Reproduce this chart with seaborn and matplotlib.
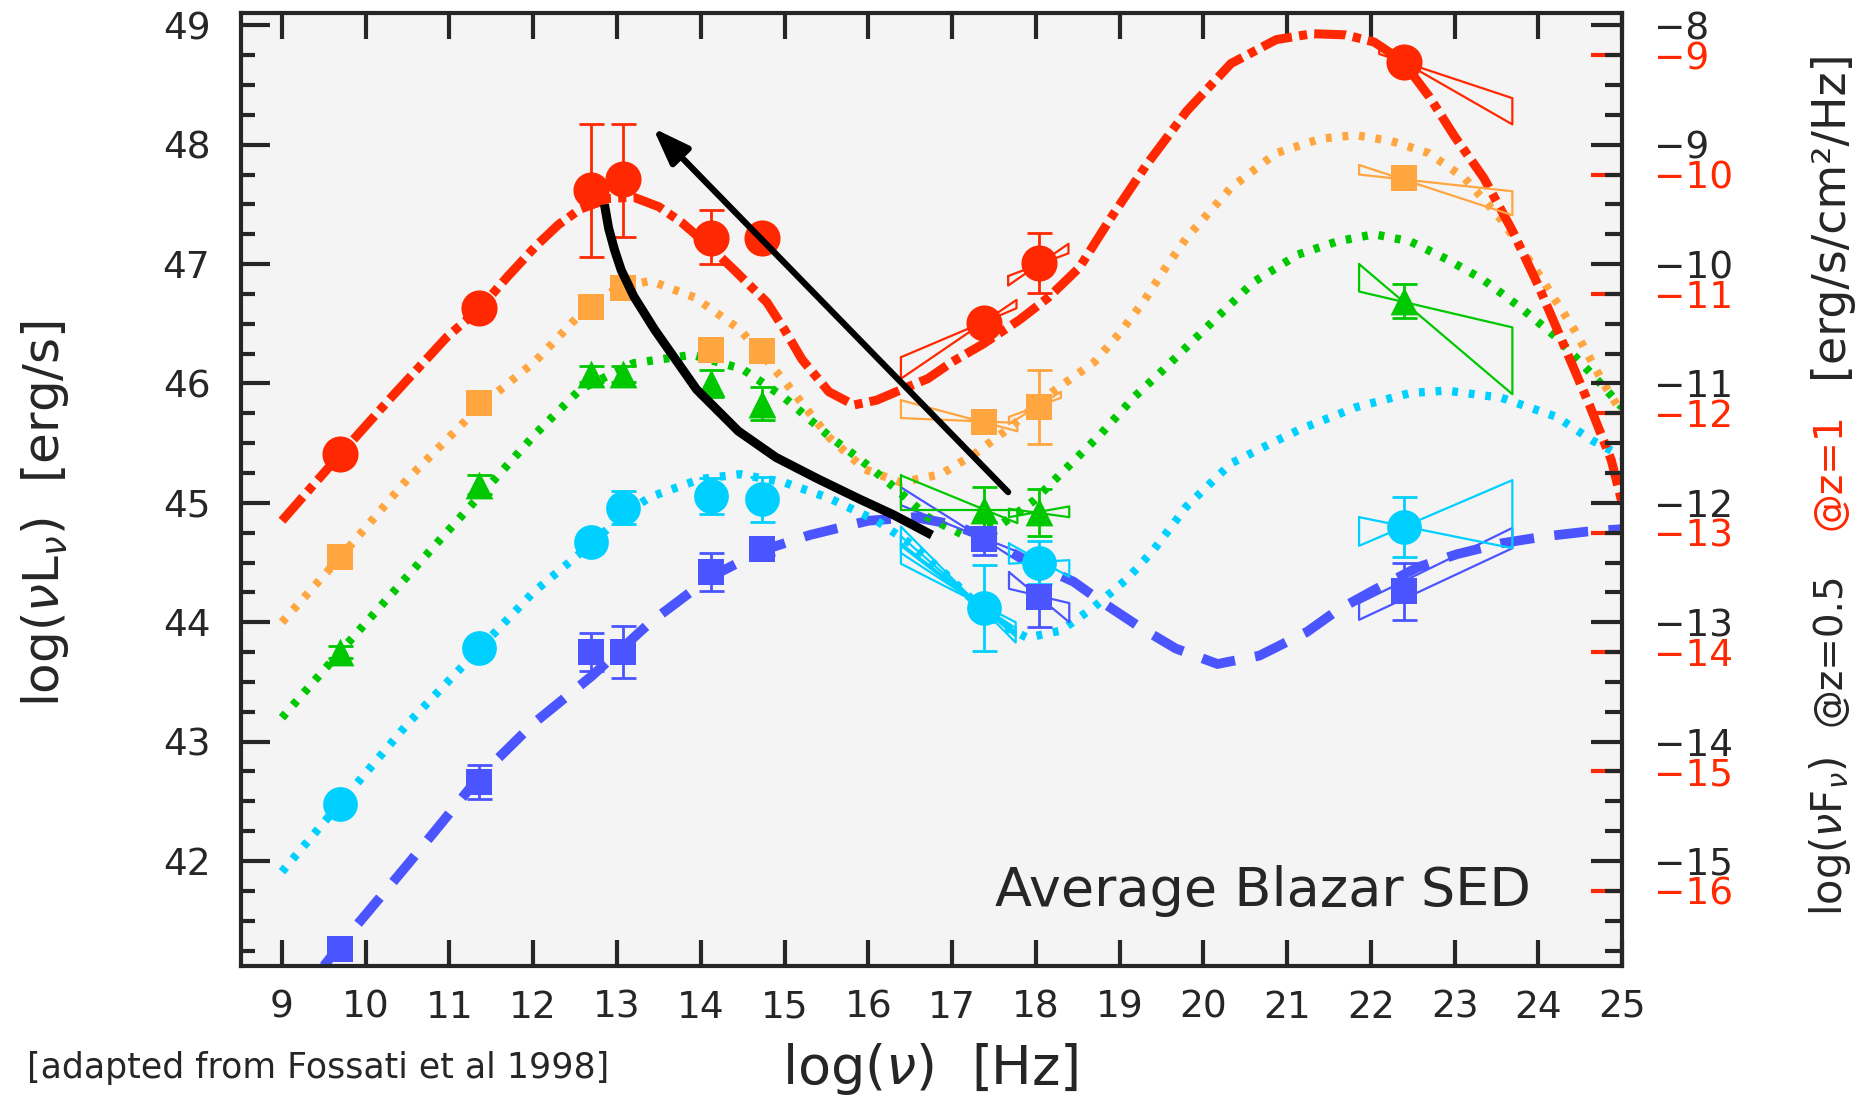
import matplotlib
matplotlib.use("Agg")
import matplotlib.pyplot as plt
import seaborn as sns
from matplotlib.ticker import FixedLocator, MultipleLocator, NullLocator

# ---- measured points: log(nu) and log(nuL_nu) ----
nu_pts = [9.69, 11.35, 12.69, 13.07, 14.12, 14.73, 17.38, 18.04, 22.40]

red_y = [45.41, 46.63, 47.62, 47.71, 47.22, 47.22, 46.51, 47.01, 48.69]
red_err_lo = [0, 0, 0.56, 0.48, 0.22, 0, 0, 0.25, 0]
red_err_hi = [0, 0, 0.55, 0.46, 0.23, 0, 0, 0.25, 0]

orange_y = [44.55, 45.84, 46.64, 46.80, 46.28, 46.27, 45.68, 45.80, 47.72]
orange_err = [0, 0, 0, 0, 0, 0, 0, 0.31, 0]

green_y = [43.75, 45.15, 46.08, 46.08, 46.00, 45.83, 44.94, 44.92, 46.69]
green_err = [0.05, 0.08, 0.07, 0.07, 0.11, 0.14, 0.19, 0.20, 0.14]

cyan_y = [42.48, 43.78, 44.67, 44.96, 45.06, 45.03, 44.12, 44.50, 44.80]
cyan_err = [0, 0, 0, 0.14, 0.15, 0.19, 0.36, 0.18, 0.25]

blue_y = [41.26, 42.66, 43.75, 43.75, 44.42, 44.61, 44.70, 44.21, 44.26]
blue_err = [0, 0.14, 0.16, 0.22, 0.16, 0.05, 0.14, 0.25, 0.24]

# ---- model curves ----
red_cx = [9.0, 9.7, 10.3, 10.97, 11.35, 11.7, 12.03, 12.3, 12.56, 12.9, 13.2, 13.5, 13.77,
          14.1, 14.4, 14.79, 15.0, 15.21, 15.53, 15.83, 16.1, 16.4, 16.71, 17.0, 17.37, 17.8,
          18.15, 18.52, 18.89, 19.32, 19.8, 20.33, 20.87, 21.3, 21.7, 22.04, 22.38, 22.7,
          23.0, 23.35, 23.69, 24.0, 24.3, 24.61, 24.87, 25.0]
red_cy = [44.85, 45.41, 45.88, 46.39, 46.62, 46.9, 47.15, 47.33, 47.46, 47.55, 47.56, 47.48, 47.35,
          47.15, 46.95, 46.68, 46.45, 46.2, 45.93, 45.82, 45.86, 45.95, 46.04, 46.18, 46.33, 46.53,
          46.72, 46.97, 47.38, 47.83, 48.28, 48.68, 48.88, 48.93, 48.92, 48.86, 48.7, 48.4,
          48.07, 47.72, 47.28, 46.82, 46.33, 45.82, 45.36, 45.0]

orange_cx = [9.0, 9.69, 10.5, 11.35, 12.03, 12.56, 13.0, 13.4, 13.93, 14.47, 15.0, 15.53, 15.96,
             16.39, 16.87, 17.29, 17.67, 18.2, 18.7, 19.0, 19.3, 19.55, 19.8, 20.33, 20.87, 21.4,
             21.82, 22.25, 22.69, 23.12, 23.56, 24.0, 24.43, 24.78, 25.0]
orange_cy = [44.0, 44.54, 45.2, 45.8, 46.19, 46.58, 46.8, 46.86, 46.72, 46.45, 46.02, 45.55, 45.28,
             45.17, 45.24, 45.42, 45.62, 45.93, 46.18, 46.42, 46.7, 46.97, 47.22, 47.64, 47.93, 48.05,
             48.08, 48.03, 47.93, 47.72, 47.37, 46.92, 46.45, 46.0, 45.75]

green_cx = [9.0, 9.69, 10.77, 11.35, 12.03, 12.56, 13.2, 13.9, 14.5, 15.0, 15.53, 15.91, 16.31,
            16.71, 17.11, 17.59, 17.98, 18.38, 18.78, 19.18, 19.5, 20.07, 20.6, 21.13, 21.6,
            22.04, 22.47, 22.91, 23.34, 23.78, 24.21, 24.65, 25.0]
green_cy = [43.2, 43.75, 44.6, 45.05, 45.58, 45.95, 46.17, 46.24, 46.12, 45.88, 45.56, 45.36, 45.13,
            44.88, 44.74, 44.82, 45.02, 45.3, 45.58, 45.89, 46.1, 46.49, 46.85, 47.08, 47.19,
            47.25, 47.19, 47.04, 46.87, 46.64, 46.39, 46.07, 45.8]

cyan_cx = [9.0, 9.69, 10.5, 11.36, 12.0, 12.7, 13.07, 13.4, 14.0, 14.47, 15.0, 15.53, 16.1, 16.5,
           16.9, 17.3, 17.6, 17.9, 18.3, 18.7, 19.1, 19.4, 19.8, 20.33, 20.87, 21.17, 21.82,
           22.47, 22.91, 23.56, 24.22, 24.65, 25.0]
cyan_cy = [41.91, 42.48, 43.15, 43.78, 44.25, 44.66, 44.9, 45.05, 45.2, 45.24, 45.17, 45.04, 44.85,
           44.66, 44.42, 44.15, 43.97, 43.87, 43.93, 44.13, 44.37, 44.6, 44.97, 45.33, 45.52,
           45.62, 45.8, 45.92, 45.94, 45.88, 45.72, 45.52, 45.39]

blue_cx = [9.5, 9.7, 10.5, 11.35, 12.0, 12.7, 13.4, 14.12, 14.73, 15.3, 16.0, 16.55, 17.0, 17.37,
           17.8, 18.2, 18.45, 18.81, 19.24, 19.67, 20.17, 20.67, 21.24, 21.6, 22.04, 22.56,
           23.03, 23.55, 24.09, 24.59, 25.0]
blue_cy = [41.12, 41.3, 41.97, 42.7, 43.15, 43.55, 44.0, 44.38, 44.6, 44.73, 44.85, 44.88, 44.82,
           44.72, 44.55, 44.42, 44.34, 44.16, 43.96, 43.78, 43.65, 43.72, 43.92, 44.1, 44.27,
           44.46, 44.57, 44.66, 44.72, 44.76, 44.78]

# ---- spectral bowties: (x_left, x_right, y1_left, y1_right, y2_left, y2_right) ----
red_bows = [(16.39, 17.77, 46.22, 46.63, 46.04, 46.70),
            (17.67, 18.39, 46.90, 47.09, 46.82, 47.17),
            (22.10, 23.69, 48.81, 48.17, 48.76, 48.39)]
orange_bows = [(16.39, 17.78, 45.86, 45.60, 45.71, 45.67),
               (17.68, 18.30, 45.72, 45.88, 45.66, 45.93),
               (21.86, 23.69, 47.83, 47.41, 47.75, 47.61)]
green_bows = [(16.39, 17.78, 45.23, 44.83, 44.94, 44.94),
              (17.68, 18.40, 44.95, 44.88, 44.88, 44.97),
              (21.86, 23.69, 47.00, 45.91, 46.77, 46.47)]
cyan_bows = [(16.39, 17.76, 44.80, 43.83, 44.49, 44.00),
             (16.39, 17.76, 44.72, 43.88, 44.58, 43.95),
             (16.39, 17.76, 44.66, 43.92, 44.64, 43.90),
             (17.68, 18.40, 44.66, 44.38, 44.49, 44.52),
             (21.86, 23.69, 44.88, 44.62, 44.64, 45.19)]
blue_bows = [(16.39, 17.82, 45.13, 44.50, 44.98, 44.58),
             (17.68, 18.40, 44.42, 44.00, 44.28, 44.16),
             (21.86, 23.69, 44.16, 44.79, 44.02, 44.62)]

# black annotation path and arrow
trend_x = [12.85, 12.9, 12.97, 13.05, 13.2, 13.45, 13.7, 13.95, 14.45, 14.9, 15.4, 15.9, 16.3, 16.76]
trend_y = [47.5, 47.3, 47.12, 46.95, 46.73, 46.45, 46.2, 45.95, 45.6, 45.38, 45.2, 45.03, 44.9, 44.73]
arrow_tail = (17.67, 45.09)
arrow_head = (13.43, 48.14)

x_ticks = list(range(9, 26))
left_ticks = list(range(42, 50))
flux_black_ticks = list(range(-15, -7))
flux_red_ticks = list(range(-16, -8))

# ---- style ----
sns.set_style("ticks")
plt.rcParams['font.family'] = ['DejaVu Sans']
plt.rcParams['mathtext.fontset'] = 'dejavusans'
plt.rcParams['axes.unicode_minus'] = True

RED = '#ff2800'
ORANGE = '#ffa640'
GREEN = '#00c800'
CYAN = '#00d0ff'
BLUE = '#4a55ff'

fig = plt.figure(figsize=(18.72, 10.98), dpi=100)
ax = fig.add_axes([0.1287, 0.1202, 0.7378, 0.8676])
ax.set_facecolor('#f4f4f4')

dotted = (0, (0.7, 1.3))
series = [
    (blue_cx, blue_cy, BLUE, 7.0, (0, (3.5, 2.1)), blue_y, blue_err, blue_err, 's', 19, blue_bows),
    (cyan_cx, cyan_cy, CYAN, 6.0, dotted, cyan_y, cyan_err, cyan_err, 'o', 25, cyan_bows),
    (orange_cx, orange_cy, ORANGE, 6.0, dotted, orange_y, orange_err, orange_err, 's', 19, orange_bows),
    (green_cx, green_cy, GREEN, 6.0, dotted, green_y, green_err, green_err, '^', 20, green_bows),
    (red_cx, red_cy, RED, 6.5, (0, (3.5, 0.8, 0.9, 0.8)), red_y, red_err_lo, red_err_hi, 'o', 26, red_bows),
]

for cx, cy, col, lw, ls, py, elo, ehi, mk, ms, bows in series:
    sns.lineplot(x=cx, y=cy, ax=ax, color=col, lw=lw, linestyle=ls, sort=False,
                 estimator=None, zorder=2)
    for xl, xr, y1l, y1r, y2l, y2r in bows:
        ax.plot([xl, xr, xr, xl, xl], [y1l, y1r, y2r, y2l, y1l], color=col, lw=1.6, zorder=3)
    ex = [x for x, a, b in zip(nu_pts, elo, ehi) if a + b > 0]
    ey = [y for y, a, b in zip(py, elo, ehi) if a + b > 0]
    el = [a for a, b in zip(elo, ehi) if a + b > 0]
    eh = [b for a, b in zip(elo, ehi) if a + b > 0]
    ax.errorbar(ex, ey, yerr=[el, eh], fmt='none', ecolor=col, elinewidth=2.0,
                capsize=9, capthick=2.0, zorder=4)
    sns.scatterplot(x=nu_pts, y=py, ax=ax, marker=mk, s=ms ** 2, color=col,
                    linewidth=0, zorder=5, legend=False)

ax.plot(trend_x, trend_y, color='k', lw=6.5, solid_capstyle='butt', zorder=6)
ax.annotate('', xy=arrow_head, xytext=arrow_tail,
            arrowprops=dict(arrowstyle='-|>,head_length=1.1,head_width=0.4', color='k',
                            lw=4.5, mutation_scale=20, shrinkA=0, shrinkB=0), zorder=6)

ax.text(20.71, 41.62, 'Average Blazar SED', ha='center', va='baseline', fontsize=39)

ax.set_xlim(8.51, 25.0)
ax.set_ylim(41.12, 49.10)
ax.set_xlabel('')
ax.set_ylabel('')

ax.xaxis.set_major_locator(FixedLocator(x_ticks))
ax.yaxis.set_major_locator(FixedLocator(left_ticks))
ax.yaxis.set_minor_locator(MultipleLocator(0.25))
ax.xaxis.set_minor_locator(NullLocator())
ax.tick_params(axis='x', which='major', direction='in', top=True, bottom=True,
               length=19, width=3, labelsize=27, pad=17)
ax.tick_params(axis='y', which='major', direction='in', left=True, right=False,
               length=21, width=3, labelsize=27, pad=22)
ax.tick_params(axis='y', which='minor', direction='in', left=True, right=False,
               length=10, width=3)
for s in ax.spines.values():
    s.set_linewidth(3)
    s.set_visible(True)

# right axes: red (z=1) under black (z=0.5)
ax_red = ax.twinx()
ax_red.set_ylim(41.12 - 57.75, 49.10 - 57.75)
ax_red.yaxis.set_major_locator(FixedLocator(flux_red_ticks))
ax_red.yaxis.set_minor_locator(NullLocator())
ax_red.tick_params(axis='y', which='major', direction='in', right=True, left=False,
                   length=22, width=3, color=RED, labelcolor=RED, labelsize=27, pad=23)
for s in ax_red.spines.values():
    s.set_visible(False)

ax_blk = ax.twinx()
ax_blk.set_ylim(41.12 - 57.0, 49.10 - 57.0)
ax_blk.yaxis.set_major_locator(FixedLocator(flux_black_ticks))
ax_blk.yaxis.set_minor_locator(MultipleLocator(0.25))
ax_blk.tick_params(axis='y', which='major', direction='in', right=True, left=False,
                   length=22, width=3, labelsize=27, pad=23)
ax_blk.tick_params(axis='y', which='minor', direction='in', right=True, left=False,
                   length=12, width=3)
for s in ax_blk.spines.values():
    s.set_visible(False)

# axis titles
fig.text(0.024, 0.532, r'log$(\nu$L$_\nu)$  [erg/s]', rotation=90, ha='center', va='center',
         fontsize=36)
fig.text(0.497, 0.0264, r'log$(\nu)$  [Hz]', ha='center', va='center', fontsize=39)
fig.text(0.0144, 0.027, '[adapted from Fossati et al 1998]', ha='left', va='center', fontsize=25)
fig.text(0.9775, 0.238, r'log$(\nu$F$_\nu)$', rotation=90, ha='center', va='center', fontsize=30)
fig.text(0.9775, 0.409, '@z=0.5', rotation=90, ha='center', va='center', fontsize=28)
fig.text(0.9775, 0.5706, '@z=1', rotation=90, ha='center', va='center', fontsize=28, color=RED)
fig.text(0.9775, 0.805, '[erg/s/cm²/Hz]', rotation=90, ha='center', va='center', fontsize=33)

fig.savefig('out.png', dpi=100)
